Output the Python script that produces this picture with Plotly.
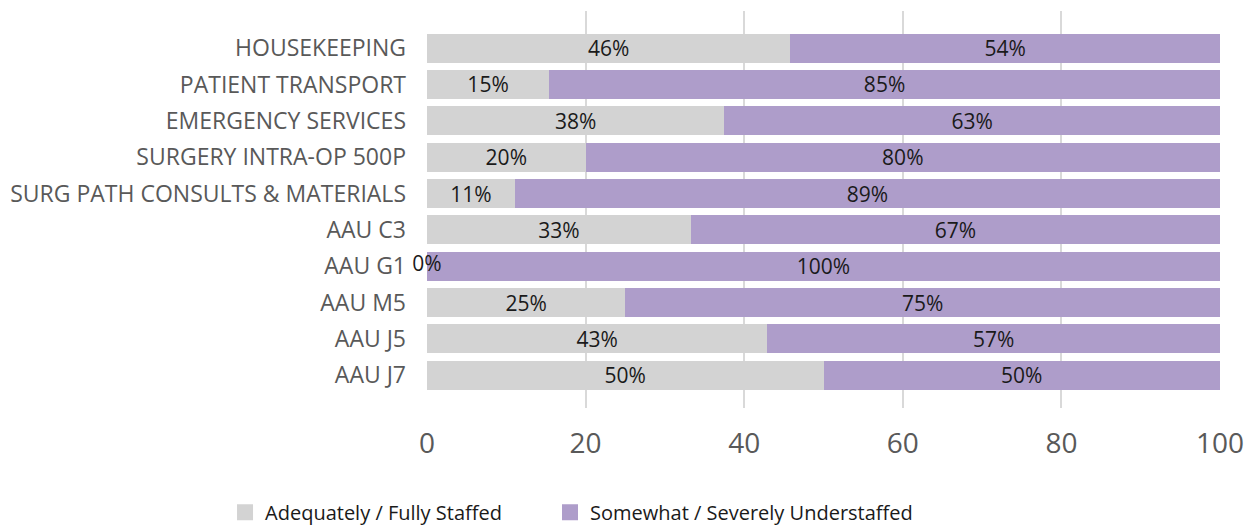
import plotly.graph_objects as go

categories = ["HOUSEKEEPING", "PATIENT TRANSPORT", "EMERGENCY SERVICES", "SURGERY INTRA-OP 500P",
              "SURG PATH CONSULTS & MATERIALS", "AAU C3", "AAU G1", "AAU M5", "AAU J5", "AAU J7"]
adequate = [45.8, 15.4, 37.5, 20.0, 11.1, 33.3, 0.0, 25.0, 42.9, 50.0]
understaffed = [54.2, 84.6, 62.5, 80.0, 88.9, 66.7, 100.0, 75.0, 57.1, 50.0]
series_names = ["Adequately / Fully Staffed", "Somewhat / Severely Understaffed"]
colors = ["#d3d3d3", "#ae9dca"]
x_ticks = [0, 20, 40, 60, 80, 100]

FONT = "Segoe UI, Open Sans, Noto Sans, sans-serif"
legend_ids = ["legend", "legend2"]

fig = go.Figure()
for name, vals, col, lg in zip(series_names, [adequate, understaffed], colors, legend_ids):
    fig.add_trace(go.Bar(
        y=categories, x=vals, name=name, orientation="h",
        marker=dict(color=col, line=dict(width=0)),
        texttemplate="%{x:.0f}%", textposition="inside", insidetextanchor="middle",
        textfont=dict(family=FONT, size=21, color="#1a1a1a"),
        constraintext="none", showlegend=False,
        hoverinfo="x+y",
    ))
    # legend entry with a larger square swatch
    fig.add_trace(go.Scatter(
        x=[None], y=[None], mode="markers", name=name, legend=lg,
        marker=dict(symbol="square", size=24, color=col),
        hoverinfo="skip",
    ))

# label for zero-width segments
zero_y = [c for c, v in zip(categories, adequate) if v == 0]
zero_x = [v for v in adequate if v == 0]
fig.add_trace(go.Scatter(
    y=zero_y, x=zero_x, mode="text", text=[f"{v:.0f}%" for v in zero_x],
    textposition="middle center", textfont=dict(family=FONT, size=21, color="#1a1a1a"),
    showlegend=False, cliponaxis=False, hoverinfo="skip",
))

legend_common = dict(orientation="h", xref="container", yref="container", xanchor="left",
                     y=0.032, yanchor="middle", itemsizing="trace", itemwidth=30,
                     font=dict(family=FONT, size=20, color="#1a1a1a"))

fig.update_layout(
    barmode="stack", bargap=0.2,
    width=1248, height=521,
    margin=dict(l=419, r=36, t=3, b=121),
    plot_bgcolor="white", paper_bgcolor="white",
    font=dict(family=FONT, color="#595959"),
    xaxis=dict(range=[0, 100], tickvals=x_ticks, showgrid=True, gridcolor="#d9d9d9", gridwidth=2,
               zeroline=False, showline=False, ticks="", tickfont=dict(size=28, color="#595959"),
               ticklabelstandoff=16, fixedrange=True),
    yaxis=dict(categoryorder="array", categoryarray=categories, range=[9.9, -1.02],
               showgrid=False, zeroline=False, ticks="", tickfont=dict(size=23, color="#595959"),
               ticklabelstandoff=20),
    legend=dict(x=0.1739, **legend_common),
    legend2=dict(x=0.4343, **legend_common),
)

fig.write_html("out.html")
